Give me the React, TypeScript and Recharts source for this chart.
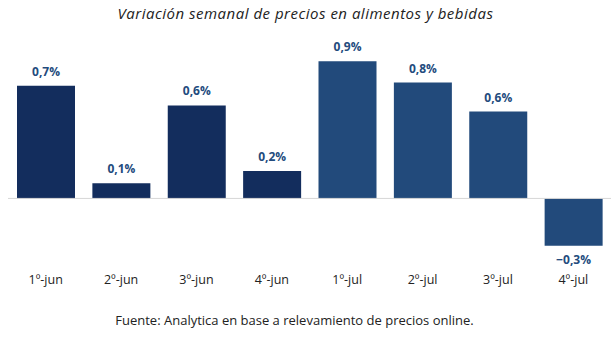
import { Bar, BarChart, Cell, LabelList, ReferenceLine, XAxis, YAxis } from 'recharts';

const weeks = ['1º-jun', '2º-jun', '3º-jun', '4º-jun', '1º-jul', '2º-jul', '3º-jul', '4º-jul'];
const variation = [0.74, 0.1, 0.61, 0.18, 0.9, 0.76, 0.57, -0.31];
const months = ['jun', 'jun', 'jun', 'jun', 'jul', 'jul', 'jul', 'jul'];

const monthColor: Record<string, string> = { jun: '#132d5d', jul: '#224a7b' };
const font = '"Open Sans", sans-serif';

const data = weeks.map((week, i) => ({ week, value: variation[i], month: months[i] }));

const formatPct = (v: number) => `${v < 0 ? '−' : ''}${Math.abs(v).toFixed(1).replace('.', ',')}%`;

function ValueLabel(props: any) {
  const { x, y, width, height, value } = props;
  const top = Math.min(y, y + height);
  const bottom = Math.max(y, y + height);
  const cy = value < 0 ? bottom + 14 : top - 14.5;
  return (
    <text x={x + width / 2} y={cy} textAnchor="middle" dominantBaseline="central"
      fontFamily={font} fontSize={12} fontWeight={700} fill="#234b7d">
      {formatPct(value)}
    </text>
  );
}

export default function App() {
  return (
    <div style={{ position: 'absolute', left: 0, top: 0, width: 611, height: 337, background: '#fff', fontFamily: font }}>
      <div style={{ position: 'absolute', top: 3, left: 0, width: 611, textAlign: 'center', fontSize: 15, letterSpacing: 0.5, fontStyle: 'italic', color: '#222' }}>
        Variación semanal de precios en alimentos y bebidas
      </div>
      <BarChart width={611} height={337} data={data} margin={{ top: 46, right: 0, left: 8, bottom: 40 }}>
        <XAxis dataKey="week" axisLine={false} tickLine={false} height={30} interval={0}
          tick={{ fontSize: 12.5, fill: '#222', fontFamily: font }}/>
        <YAxis hide domain={[-0.45, 1]}/>
        <ReferenceLine y={0} stroke="#d6d6d6" strokeWidth={1}/>
        <Bar dataKey="value" barSize={58} isAnimationActive={false}>
          {data.map((d) => <Cell key={d.week} fill={monthColor[d.month]}/>)}
          <LabelList dataKey="value" content={<ValueLabel/>}/>
        </Bar>
      </BarChart>
      <div style={{ position: 'absolute', top: 311, left: 0, width: 589, textAlign: 'center', fontSize: 13, color: '#222' }}>
        Fuente: Analytica en base a relevamiento de precios online.
      </div>
    </div>
  );
}
